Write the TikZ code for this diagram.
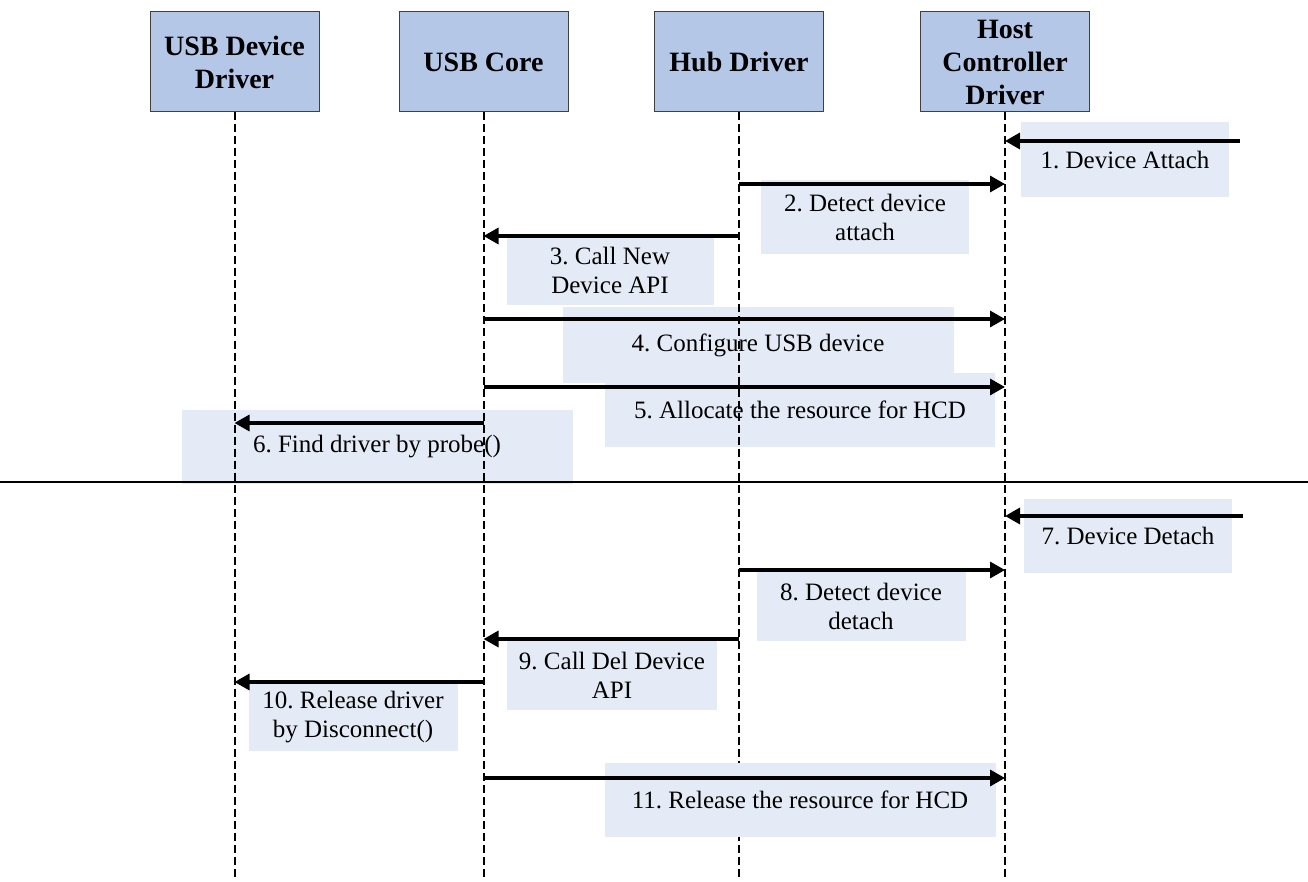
\documentclass[tikz,border=0pt]{standalone}
\usepackage{fontspec}
\setmainfont{Liberation Serif}
\usetikzlibrary{arrows.meta}
\definecolor{headfill}{HTML}{B4C7E7}
\definecolor{notefill}{HTML}{E5EBF6}
\definecolor{headline}{HTML}{404040}
\frenchspacing
\begin{document}
\begin{tikzpicture}[x=1pt,y=-1pt,
  header/.style={draw=headline, line width=1pt, fill=headfill,
    minimum width=169pt, minimum height=100pt, inner sep=0pt, align=center,
    font=\fontsize{28}{33}\selectfont\bfseries},
  note/.style={fill=notefill, inner sep=0pt, align=center,
    font=\fontsize{25}{29}\selectfont},
  lifeline/.style={line width=2pt, dash pattern=on 8pt off 4pt},
  msg/.style={line width=3.3pt, -{Triangle[length=15pt,width=16pt]}},
  sepline/.style={line width=1.5pt}]
\useasboundingbox (0,0) rectangle (1308,882);

% participants
\node[header] (dev)  at (234.5,62) {USB Device\\Driver};
\node[header] (core) at (483.5,62) {USB Core};
\node[header] (hub)  at (739,62)   {Hub Driver};
\node[header] (hcd)  at (1005,62)  {Host\\Controller\\Driver};

% message labels (drawn under the lifelines)
\node[note, minimum width=208pt, minimum height=75pt] (n1)  at (1125,160) {1. Device Attach};
\node[note, minimum width=208pt, minimum height=74pt] (n2)  at (865,217)  {2. Detect device\\attach};
\node[note, minimum width=207pt, minimum height=70pt] (n3)  at (610,270)  {3. Call New\\Device API};
\node[note, minimum width=391pt, minimum height=75pt] (n4)  at (758,345)  {4. Configure USB device};
\node[note, minimum width=390pt, minimum height=74pt] (n5)  at (800,410)  {5. Allocate the resource for HCD};
\node[note, minimum width=391pt, minimum height=74pt] (n6)  at (377,447)  {6. Find driver by probe()};
\node[note, minimum width=208pt, minimum height=74pt] (n7)  at (1128,536) {7. Device Detach};
\node[note, minimum width=209pt, minimum height=70pt] (n8)  at (861,606)  {8. Detect device\\detach};
\node[note, minimum width=210pt, minimum height=69pt] (n9)  at (612,675)  {9. Call Del Device\\API};
\node[note, minimum width=209pt, minimum height=68pt] (n10) at (353,717)  {10. Release driver\\by Disconnect()};

% lifelines
\coordinate (bottom) at (0,880);
\draw[lifeline] (dev.south)  -- (dev.south |- bottom);
\draw[lifeline] (core.south) -- (core.south |- bottom);
\draw[lifeline] (hub.south)  -- (hub.south |- bottom);
\draw[lifeline] (hcd.south)  -- (hcd.south |- bottom);

\node[note, minimum width=391pt, minimum height=74pt] (n11) at (800,800) {11. Release the resource for HCD};

% attach / detach phases
\coordinate (sepL) at (0,482);
\coordinate (sepR) at (1308,482);
\draw[sepline] (sepL) -- (sepR);

% messages
\coordinate (src1) at (1240,141);
\coordinate (src7) at (1243,516);
\coordinate (y2) at (0,184);
\coordinate (y3) at (0,236);
\coordinate (y4) at (0,319);
\coordinate (y5) at (0,387);
\coordinate (y6) at (0,423);
\coordinate (y8) at (0,570);
\coordinate (y9) at (0,639);
\coordinate (y10) at (0,682);
\coordinate (y11) at (0,778);
\draw[msg] (src1) -- (hcd.south |- src1);
\draw[msg] (hub.south |- y2) -- (hcd.south |- y2);
\draw[msg] (hub.south |- y3) -- (core.south |- y3);
\draw[msg] (core.south |- y4) -- (hcd.south |- y4);
\draw[msg] (core.south |- y5) -- (hcd.south |- y5);
\draw[msg] (core.south |- y6) -- (dev.south |- y6);
\draw[msg] (src7) -- (hcd.south |- src7);
\draw[msg] (hub.south |- y8) -- (hcd.south |- y8);
\draw[msg] (hub.south |- y9) -- (core.south |- y9);
\draw[msg] (core.south |- y10) -- (dev.south |- y10);
\draw[msg] (core.south |- y11) -- (hcd.south |- y11);
\end{tikzpicture}
\end{document}
